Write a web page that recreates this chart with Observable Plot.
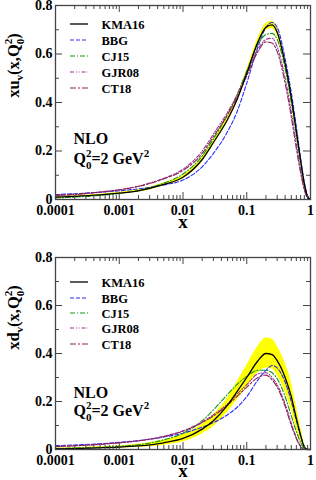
<!DOCTYPE html>
<html><head><meta charset="utf-8">
<script src="https://cdn.jsdelivr.net/npm/d3@7"></script>
<script src="https://cdn.jsdelivr.net/npm/@observablehq/plot@0.6"></script>
<style>body{margin:0;background:#fff;} #chart svg{display:block;} #chart svg text{font-family:"Liberation Serif","Times New Roman",serif;}</style>
</head><body><div id="chart"></div>
<script>
// ---------- data ----------
const xGrid = [0.0001, 0.0002, 0.0005, 0.001, 0.002, 0.005, 0.01, 0.02, 0.03, 0.05, 0.07, 0.1, 0.15, 0.2, 0.25, 0.3, 0.4, 0.5, 0.6, 0.7, 0.8, 0.9, 1.0];

// x u_v
const uKMA16   = [0.010, 0.013, 0.019, 0.026, 0.036, 0.062, 0.092, 0.165, 0.235, 0.33, 0.41, 0.52, 0.65, 0.71, 0.72, 0.69, 0.56, 0.42, 0.28, 0.16, 0.065, 0.012, 0];
const uKMA16Lo = [0.007, 0.010, 0.016, 0.022, 0.031, 0.056, 0.085, 0.155, 0.225, 0.32, 0.40, 0.505, 0.635, 0.695, 0.705, 0.675, 0.545, 0.405, 0.265, 0.15, 0.058, 0.008, 0];
const uKMA16Hi = [0.013, 0.016, 0.022, 0.030, 0.041, 0.068, 0.099, 0.175, 0.245, 0.34, 0.42, 0.535, 0.665, 0.725, 0.735, 0.705, 0.575, 0.435, 0.295, 0.17, 0.072, 0.016, 0];
const uBBG     = [0.020, 0.024, 0.030, 0.036, 0.044, 0.060, 0.080, 0.135, 0.19, 0.28, 0.36, 0.48, 0.63, 0.71, 0.73, 0.71, 0.58, 0.44, 0.30, 0.17, 0.07, 0.015, 0];
const uCJ15    = [0.006, 0.010, 0.017, 0.025, 0.037, 0.068, 0.105, 0.18, 0.25, 0.35, 0.43, 0.53, 0.64, 0.68, 0.685, 0.66, 0.54, 0.40, 0.27, 0.15, 0.06, 0.01, 0];
const uGJR08   = [0.015, 0.020, 0.030, 0.040, 0.055, 0.088, 0.125, 0.20, 0.27, 0.36, 0.43, 0.52, 0.62, 0.66, 0.665, 0.63, 0.50, 0.36, 0.23, 0.12, 0.045, 0.008, 0];
const uCT18    = [0.018, 0.022, 0.031, 0.040, 0.054, 0.085, 0.12, 0.19, 0.26, 0.35, 0.42, 0.51, 0.61, 0.65, 0.645, 0.61, 0.48, 0.34, 0.21, 0.11, 0.04, 0.007, 0];

// x d_v
const dKMA16   = [0.003, 0.004, 0.007, 0.010, 0.015, 0.028, 0.046, 0.085, 0.12, 0.185, 0.24, 0.30, 0.37, 0.40, 0.395, 0.37, 0.30, 0.22, 0.13, 0.06, 0.01, 0, 0];
const dKMA16Lo = [0.001, 0.002, 0.004, 0.006, 0.009, 0.018, 0.032, 0.065, 0.095, 0.155, 0.205, 0.26, 0.32, 0.34, 0.335, 0.31, 0.24, 0.165, 0.085, 0.03, 0.002, 0, 0];
const dKMA16Hi = [0.006, 0.007, 0.011, 0.015, 0.022, 0.04, 0.062, 0.105, 0.145, 0.215, 0.28, 0.35, 0.43, 0.465, 0.46, 0.43, 0.36, 0.28, 0.18, 0.095, 0.025, 0.002, 0];
const dBBG     = [0.016, 0.019, 0.024, 0.030, 0.037, 0.052, 0.068, 0.093, 0.112, 0.145, 0.175, 0.22, 0.29, 0.33, 0.35, 0.34, 0.28, 0.20, 0.12, 0.055, 0.012, 0, 0];
const dCJ15    = [0.004, 0.006, 0.009, 0.013, 0.020, 0.040, 0.068, 0.12, 0.165, 0.23, 0.27, 0.305, 0.33, 0.33, 0.32, 0.295, 0.22, 0.14, 0.075, 0.03, 0.005, 0, 0];
const dGJR08   = [0.012, 0.015, 0.021, 0.028, 0.036, 0.055, 0.078, 0.115, 0.145, 0.19, 0.23, 0.27, 0.315, 0.32, 0.30, 0.27, 0.19, 0.11, 0.05, 0.015, 0, 0, 0];
const dCT18    = [0.013, 0.016, 0.022, 0.028, 0.036, 0.054, 0.076, 0.112, 0.14, 0.185, 0.22, 0.26, 0.30, 0.31, 0.29, 0.26, 0.18, 0.10, 0.045, 0.012, 0, 0, 0];

const seriesNames = ["KMA16", "BBG", "CJ15", "GJR08", "CT18"];
const xTicks = [0.0001, 0.001, 0.01, 0.1, 1];
const xTickLabels = ["0.0001", "0.001", "0.01", "0.1", "1"];
const yTicks = [0, 0.2, 0.4, 0.6, 0.8];
const yTickLabels = ["0", "0.2", "0.4", "0.6", "0.8"];
const yMinorTicks = [0.1, 0.3, 0.5, 0.7];
const xMinorTicks = [1e-4, 1e-3, 1e-2, 1e-1].flatMap(d => [2,3,4,5,6,7,8,9].map(k => +(d * k).toPrecision(3)));

// ---------- styles ----------
const FONT = "Liberation Serif";
const styles = {
  KMA16: {color: "#000000", width: 1.3, dash: null},
  BBG:   {color: "#2a2aff", width: 1.1, dash: "4,2"},
  CJ15:  {color: "#159515", width: 1.1, dash: "5,2,1,2"},
  GJR08: {color: "#993399", width: 1.1, dash: "4,2,1,1.5,1,2"},
  CT18:  {color: "#8b2252", width: 1.1, dash: "6,2,2,2"}
};
const drawOrder = ["BBG", "CJ15", "GJR08", "CT18", "KMA16"];

function richText(textSel, parts) {
  textSel.text(null);
  parts.forEach(p => {
    const s = textSel.append("tspan").text(p.t);
    if (p.dx != null) s.attr("dx", p.dx);
    if (p.dy != null) s.attr("dy", p.dy);
    if (p.fs != null) s.attr("font-size", p.fs);
  });
}

function panel(cfg) {
  const W = 316, H = 240, mL = 55, mR = 6;
  const fw = W - mL - mR, fh = H - cfg.mTop - cfg.mBottom;
  const band = xGrid.map((x, i) => ({x, lo: cfg.lo[i], hi: cfg.hi[i]}));
  const lineMarks = drawOrder.map(name => Plot.line(
    xGrid.map((x, i) => ({x, y: cfg.vals[name][i]})),
    {x: "x", y: "y", stroke: styles[name].color, strokeWidth: styles[name].width,
     strokeDasharray: styles[name].dash || undefined, curve: "monotone-x"}));
  const tickColor = "#444";
  const legendTexts = seriesNames.map((name, i) => Plot.text([name], {
    frameAnchor: "top-left", dx: 46, dy: cfg.legRows[i], fontFamily: FONT,
    textAnchor: "start", lineAnchor: "middle", fontSize: 12.5, fontWeight: "bold", fill: "#000"}));
  const svg = Plot.plot({
    width: W, height: H, marginLeft: mL, marginRight: mR, marginTop: cfg.mTop, marginBottom: cfg.mBottom,
    style: {fontFamily: FONT, fontWeight: "bold", background: "#fff", color: "#000"},
    x: {type: "log", domain: [1e-4, 1]},
    y: {domain: [0, 0.8]},
    marks: [
      Plot.areaY(band, {x: "x", y1: "lo", y2: "hi", fill: "#ffff00", curve: "monotone-x"}),
      ...lineMarks,
      Plot.tickX(xTicks, {x: d => d, insetTop: fh - 7, stroke: tickColor}),
      Plot.tickX(xTicks, {x: d => d, insetBottom: fh - 7, stroke: tickColor}),
      Plot.tickX(xMinorTicks, {x: d => d, insetTop: fh - 4, stroke: tickColor}),
      Plot.tickX(xMinorTicks, {x: d => d, insetBottom: fh - 4, stroke: tickColor}),
      Plot.tickY(yTicks, {y: d => d, insetRight: fw - 7, stroke: tickColor}),
      Plot.tickY(yTicks, {y: d => d, insetLeft: fw - 7, stroke: tickColor}),
      Plot.tickY(yMinorTicks, {y: d => d, insetRight: fw - 4, stroke: tickColor}),
      Plot.tickY(yMinorTicks, {y: d => d, insetLeft: fw - 4, stroke: tickColor}),
      Plot.frame({stroke: tickColor, strokeWidth: 1.3}),
      Plot.axisX(xTicks, {tickSize: 0, tickPadding: 6, label: null, fontSize: 14, fontWeight: "bold", fontFamily: FONT,
        tickFormat: d => xTickLabels[xTicks.indexOf(d)]}),
      Plot.axisY(yTicks, {tickSize: 0, tickPadding: 3, label: null, fontSize: 14, fontWeight: "bold", fontFamily: FONT,
        tickFormat: d => yTickLabels[yTicks.indexOf(d)]}),
      Plot.text(["x"], {frameAnchor: "bottom", dy: cfg.xlabDy, fontSize: 19, fontWeight: "bold", lineAnchor: "middle", fontFamily: FONT}),
      Plot.text([cfg.ylabel], {frameAnchor: "top-left", dx: -42, dy: cfg.ylabDy, rotate: -90, fontFamily: FONT,
        textAnchor: "middle", lineAnchor: "middle", fontSize: 16.5, fontWeight: "bold", className: "ylab"}),
      Plot.text(["NLO"], {frameAnchor: "top-left", dx: 18, dy: cfg.nloDy, textAnchor: "start", fontFamily: FONT,
        lineAnchor: "middle", fontSize: 16, fontWeight: "bold"}),
      Plot.text(["Q"], {frameAnchor: "top-left", dx: 18, dy: cfg.qDy, textAnchor: "start", fontFamily: FONT,
        lineAnchor: "middle", fontSize: 16, fontWeight: "bold", className: "qlab"}),
      ...legendTexts
    ]
  });
  const s = d3.select(svg);
  s.attr("font-family", FONT);
  richText(s.select(".ylab text"), [
    {t: "x" + cfg.ylabel}, {t: cfg.sub, fs: 11, dy: 4}, {t: "(x,Q", fs: 16.5, dy: -4},
    {t: "0", fs: 11, dy: 5}, {t: "2", fs: 11, dx: -5.5, dy: -12}, {t: ")", fs: 16.5, dy: 7}
  ]);
  richText(s.select(".qlab text"), [
    {t: "Q"}, {t: "0", fs: 11, dy: 5}, {t: "2", fs: 11, dx: -5.5, dy: -12},
    {t: "=2 GeV", fs: 16, dy: 7}, {t: "2", fs: 11, dy: -7}
  ]);
  // legend line samples
  const lg = s.append("g");
  seriesNames.forEach((name, i) => {
    const y = cfg.mTop + cfg.legRows[i];
    lg.append("line").attr("x1", mL + 15).attr("x2", mL + 33).attr("y1", y).attr("y2", y)
      .attr("stroke", styles[name].color).attr("stroke-width", styles[name].width)
      .attr("stroke-dasharray", styles[name].dash);
  });
  return svg;
}

const chart = document.getElementById("chart");
chart.append(panel({
  vals: {KMA16: uKMA16, BBG: uBBG, CJ15: uCJ15, GJR08: uGJR08, CT18: uCT18},
  lo: uKMA16Lo, hi: uKMA16Hi, ylabel: "u", sub: "v",
  mTop: 5, mBottom: 41, legRows: [19, 35, 51, 67, 83], nloDy: 133.5, qDy: 153.5, ylabDy: 60, xlabDy: 22
}));
chart.append(panel({
  vals: {KMA16: dKMA16, BBG: dBBG, CJ15: dCJ15, GJR08: dGJR08, CT18: dCT18},
  lo: dKMA16Lo, hi: dKMA16Hi, ylabel: "d", sub: "v",
  mTop: 17, mBottom: 31, legRows: [25, 41, 56, 71, 87], nloDy: 135.5, qDy: 153.5, ylabDy: 60, xlabDy: 21.5
}));
</script>
</body></html>
